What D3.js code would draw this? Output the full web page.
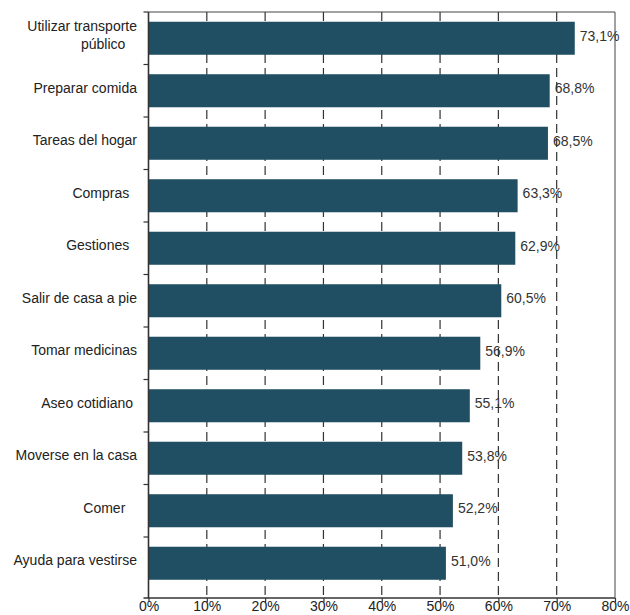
<!DOCTYPE html>
<html>
<head>
<meta charset="utf-8">
<script src="https://cdn.jsdelivr.net/npm/d3@7"></script>
<style>
  html, body { margin: 0; padding: 0; background: #fff; }
  svg { display: block; font-family: "Liberation Sans", Arial, Helvetica, sans-serif; }
  text { white-space: pre; }
</style>
</head>
<body>
<svg id="chart" width="630" height="615"></svg>
<script>
// Activities (label lines; trailing spaces kept as in the source table)
const categories = [
  ["Utilizar transporte", "público   "],
  ["Preparar comida"],
  ["Tareas del hogar"],
  ["Compras  "],
  ["Gestiones  "],
  ["Salir de casa a pie"],
  ["Tomar medicinas"],
  ["Aseo cotidiano "],
  ["Moverse en la casa"],
  ["Comer   "],
  ["Ayuda para vestirse"]
];
const values = [73.1, 68.8, 68.5, 63.3, 62.9, 60.5, 56.9, 55.1, 53.8, 52.2, 51.0];
const xTicks = [0, 10, 20, 30, 40, 50, 60, 70, 80];
const gridTicks = [10, 20, 30, 40, 50, 60, 70];

const svg = d3.select("#chart");
const plot = { left: 148.5, right: 615, top: 12, bottom: 598 };
const bandEnd = 589.5;

const keys = categories.map((c, i) => i);
const x = d3.scaleLinear().domain([0, 80]).range([plot.left, plot.right]);
const y = d3.scaleBand().domain(keys).range([plot.top, bandEnd])
  .paddingInner(0.371).paddingOuter(0.1855);

const fmt = v => d3.format(".1f")(v).replace(".", ",") + "%";

// dashed gridlines behind the bars
svg.append("g").selectAll("line").data(gridTicks).join("line")
  .attr("x1", d => x(d)).attr("x2", d => x(d))
  .attr("y1", plot.top).attr("y2", plot.bottom)
  .attr("stroke", "#333").attr("stroke-width", 1.2)
  .attr("stroke-dasharray", "9,5");

// frame: top and right edges
svg.append("path")
  .attr("d", `M${plot.left},${plot.top}H${plot.right}V${plot.bottom}`)
  .attr("fill", "none").attr("stroke", "#444").attr("stroke-width", 1);

// bars
svg.append("g").selectAll("rect").data(values).join("rect")
  .attr("x", x(0))
  .attr("y", (d, i) => y(i))
  .attr("width", d => x(d) - x(0))
  .attr("height", y.bandwidth())
  .attr("fill", "#204f63");

// value labels
svg.append("g").selectAll("text").data(values).join("text")
  .attr("x", d => x(d) + 5)
  .attr("y", (d, i) => y(i) + y.bandwidth() / 2 + 2.5)
  .attr("font-size", 14).attr("fill", "#333")
  .text(d => fmt(d));

// category labels
const catG = svg.append("g");
categories.forEach((lines, i) => {
  const cy = y(i) + y.bandwidth() / 2;
  const t = catG.append("text")
    .attr("text-anchor", "end")
    .attr("font-size", 14).attr("fill", "#222");
  const lh = 18;
  const y0 = cy + 2 - (lines.length - 1) * lh / 2;
  lines.forEach((ln, j) => {
    t.append("tspan").attr("x", 137).attr("y", y0 + j * lh).text(ln);
  });
});

// left axis with ticks at band boundaries
const axisG = svg.append("g").attr("stroke", "#333");
axisG.append("line")
  .attr("x1", plot.left).attr("x2", plot.left)
  .attr("y1", plot.top).attr("y2", plot.bottom)
  .attr("stroke-width", 1.6);
const bounds = keys.map(k => y(k) - y.step() * y.paddingInner() / 2);
axisG.selectAll("line.yt").data(bounds).join("line").attr("class", "yt")
  .attr("x1", plot.left - 5).attr("x2", plot.left)
  .attr("y1", d => d).attr("y2", d => d).attr("stroke-width", 1.2);

// bottom axis
const xAxis = d3.axisBottom(x).tickValues(xTicks).tickSize(4)
  .tickFormat(d => d + "%");
const xg = svg.append("g").attr("transform", `translate(0,${plot.bottom})`).call(xAxis);
xg.select(".domain").attr("d", `M${plot.left - 5},0H${plot.right}`)
  .attr("stroke", "#333").attr("stroke-width", 1.6);
xg.selectAll(".tick line").attr("stroke", "#333").attr("stroke-width", 1.2);
xg.selectAll(".tick text").attr("font-size", 14).attr("fill", "#222")
  .attr("y", 3).attr("dy", "0.71em")
  .attr("font-family", "'Liberation Sans', Arial, Helvetica, sans-serif");
</script>
</body>
</html>
